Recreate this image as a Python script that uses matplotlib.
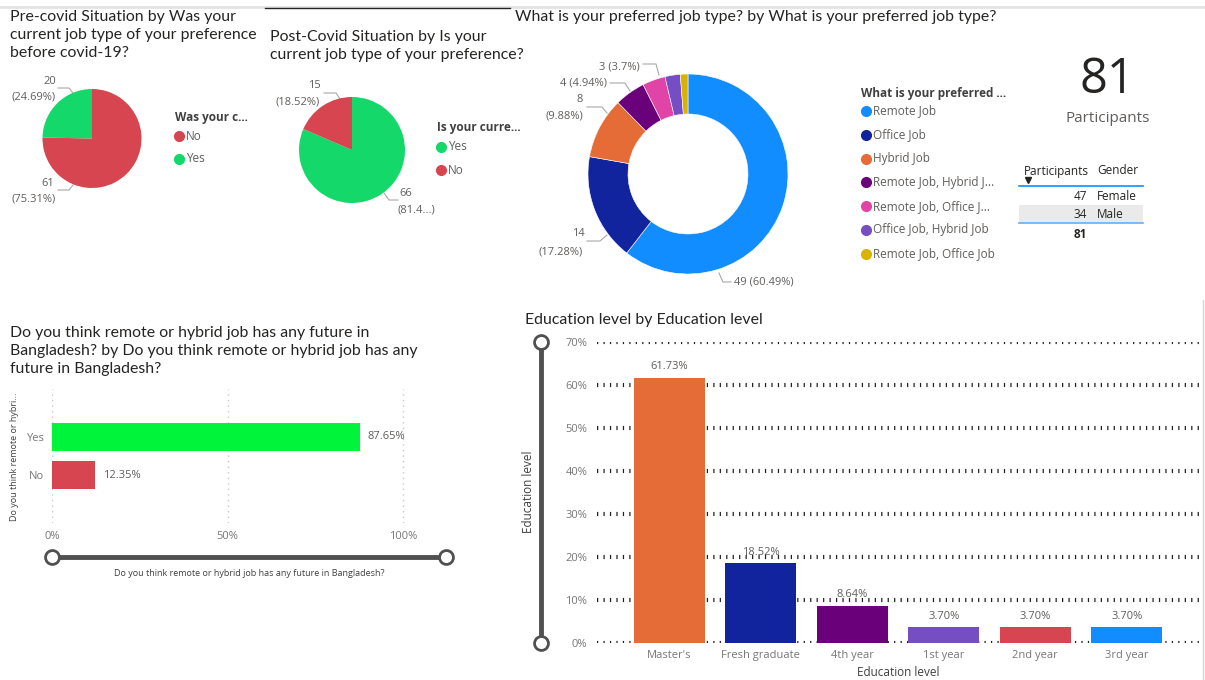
import matplotlib
matplotlib.use("Agg")
import matplotlib.pyplot as plt
from matplotlib.ticker import FuncFormatter

# ---------------- data ----------------
pre_labels = ["No", "Yes"]
pre_values = [61, 20]
post_labels = ["Yes", "No"]
post_values = [66, 15]
job_types = ["Remote Job", "Office Job", "Hybrid Job", "Remote Job, Hybrid J...",
             "Remote Job, Office J...", "Office Job, Hybrid Job", "Remote Job, Office Job"]
job_counts = [49, 14, 8, 4, 3, 2, 1]
gender_labels = ["Female", "Male"]
gender_counts = [47, 34]
future_labels = ["Yes", "No"]
future_pct = [87.65, 12.35]
edu_levels = ["Master's", "Fresh graduate", "4th year", "1st year", "2nd year", "3rd year"]
edu_pct = [61.73, 18.52, 8.64, 3.70, 3.70, 3.70]

# ---------------- styling ----------------
RED = "#D64550"
GREEN_PIE = "#14D86A"
GREEN_BAR = "#00F53A"
pre_colors = [RED, GREEN_PIE]
post_colors = [GREEN_PIE, RED]
job_colors = ["#118DFF", "#12239E", "#E66C37", "#6B007B", "#E044A7", "#744EC2", "#D9B300"]
future_colors = [GREEN_BAR, RED]
edu_colors = ["#E66C37", "#12239E", "#6B007B", "#744EC2", "#D64550", "#118DFF"]
TITLE_C = "#252423"
LABEL_C = "#605E5C"
LEAD_C = "#A8A8A8"
TFONT = "Lato"
BFONT = "Open Sans"
TSIZE = 11.4

W, H = 1205, 680
fig = plt.figure(figsize=(W / 100, H / 100), dpi=100)
fig.patch.set_facecolor("white")

bg = fig.add_axes([0, 0, 1, 1], zorder=-1)
bg.set_xlim(0, W)
bg.set_ylim(H, 0)
bg.axis("off")


def add_ax(x0, y0, x1, y1, **kw):
    return fig.add_axes([x0 / W, 1 - y1 / H, (x1 - x0) / W, (y1 - y0) / H], **kw)


def pct_str(p):
    return f"{p:.2f}".rstrip("0").rstrip(".")


def title(x, y_first, txt):
    lines = txt.split("\n")
    for i, ln in enumerate(lines):
        bg.text(x, y_first + 18.2 * i, ln, fontsize=TSIZE, family=TFONT, color=TITLE_C,
                va="center", ha="left")


# top border lines
bg.plot([0, W], [7, 7], color="#E3E3E3", lw=2)
bg.plot([265, 510], [8, 8], color="#252423", lw=1)
bg.plot([1203, 1203], [300, 680], color="#D6D6D6", lw=1)

# ---------------- Pie 1 ----------------
title(10, 17, "Pre-covid Situation by Was your\ncurrent job type of your preference\nbefore covid-19?")
ax1 = add_ax(92 - 49.5, 138.5 - 49.5, 92 + 49.5, 138.5 + 49.5)
ax1.pie(pre_values, colors=pre_colors, startangle=90, counterclock=False,
        wedgeprops=dict(linewidth=0))
ax1.set_xlim(-1, 1); ax1.set_ylim(-1, 1)
tot = sum(pre_values)
bg.text(50, 81, f"{pre_values[1]}", fontsize=8, family=BFONT, color=LABEL_C, ha="center", va="center")
bg.text(34, 97, f"({pct_str(pre_values[1] / tot * 100)}%)", fontsize=8, family=BFONT, color=LABEL_C, ha="center", va="center")
bg.plot([58, 69, 73], [88, 88, 93], color=LEAD_C, lw=0.8)
bg.text(48, 183, f"{pre_values[0]}", fontsize=8, family=BFONT, color=LABEL_C, ha="center", va="center")
bg.text(34, 199, f"({pct_str(pre_values[0] / tot * 100)}%)", fontsize=8, family=BFONT, color=LABEL_C, ha="center", va="center")
bg.plot([58, 69, 73], [190, 190, 185], color=LEAD_C, lw=0.8)
bg.text(175, 117, "Was your c...", fontsize=8.5, family=BFONT, weight="bold", color="#404040", va="center")
for i, (lab, c) in enumerate(zip(pre_labels, pre_colors)):
    y = 136 + 23 * i
    bg.plot(179, y, "o", ms=7, color=c)
    bg.text(186, y, lab, fontsize=8.5, family=BFONT, color=LABEL_C, va="center")

# ---------------- Pie 2 ----------------
title(270, 37, "Post-Covid Situation by Is your\ncurrent job type of your preference?")
ax2 = add_ax(352 - 53, 150 - 53, 352 + 53, 150 + 53)
ax2.pie(post_values, colors=post_colors, startangle=90, counterclock=False,
        wedgeprops=dict(linewidth=0))
ax2.set_xlim(-1, 1); ax2.set_ylim(-1, 1)
tot = sum(post_values)
bg.text(314, 86, f"{post_values[1]}", fontsize=8, family=BFONT, color=LABEL_C, ha="center", va="center")
bg.text(298, 102, f"({pct_str(post_values[1] / tot * 100)}%)", fontsize=8, family=BFONT, color=LABEL_C, ha="center", va="center")
bg.plot([324, 336, 340], [93, 93, 99], color=LEAD_C, lw=0.8)
bg.text(406, 193, f"{post_values[0]}", fontsize=8, family=BFONT, color=LABEL_C, ha="center", va="center")
bg.text(416, 210, "(81.4...)", fontsize=8, family=BFONT, color=LABEL_C, ha="center", va="center")
bg.plot([384, 389, 398], [193, 200, 200], color=LEAD_C, lw=0.8)
bg.text(437, 127, "Is your curre...", fontsize=8.5, family=BFONT, weight="bold", color="#404040", va="center")
for i, (lab, c) in enumerate(zip(post_labels, post_colors)):
    y = 147 + 23 * i
    bg.plot(441, y, "o", ms=7, color=c)
    bg.text(448, y, lab, fontsize=8.5, family=BFONT, color=LABEL_C, va="center")

# ---------------- Donut ----------------
title(515, 17, "What is your preferred job type? by What is your preferred job type?")
ax3 = add_ax(688 - 100, 174 - 100, 688 + 100, 174 + 100)
ax3.pie(job_counts, colors=job_colors, startangle=90, counterclock=False,
        wedgeprops=dict(width=0.4, linewidth=0.4, edgecolor="white"))
ax3.set_xlim(-1, 1); ax3.set_ylim(-1, 1)
tot = sum(job_counts)
pc = [pct_str(v / tot * 100) for v in job_counts]
bg.text(640, 67, f"{job_counts[4]} ({pc[4]}%)", fontsize=8, family=BFONT, color=LABEL_C, ha="right", va="center")
bg.plot([643, 656, 659], [64, 64, 75], color=LEAD_C, lw=0.8)
bg.text(607, 83, f"{job_counts[3]} ({pc[3]}%)", fontsize=8, family=BFONT, color=LABEL_C, ha="right", va="center")
bg.plot([610, 625, 630], [83, 83, 91], color=LEAD_C, lw=0.8)
bg.text(580, 99, f"{job_counts[2]}", fontsize=8, family=BFONT, color=LABEL_C, ha="center", va="center")
bg.text(564, 116, f"({pc[2]}%)", fontsize=8, family=BFONT, color=LABEL_C, ha="center", va="center")
bg.plot([587, 602, 607], [107, 107, 113], color=LEAD_C, lw=0.8)
bg.text(578, 234, f"{job_counts[1]}", fontsize=8, family=BFONT, color=LABEL_C, ha="center", va="center")
bg.text(561, 252, f"({pc[1]}%)", fontsize=8, family=BFONT, color=LABEL_C, ha="center", va="center")
bg.plot([587, 600, 607], [241, 241, 235], color=LEAD_C, lw=0.8)
bg.text(734, 282, f"{job_counts[0]} ({pc[0]}%)", fontsize=8, family=BFONT, color=LABEL_C, ha="left", va="center")
bg.plot([719, 723, 731], [273, 282, 282], color=LEAD_C, lw=0.8)

bg.text(861, 93, "What is your preferred ...", fontsize=8.5, family=BFONT, weight="bold", color="#404040", va="center")
for i, (lab, c) in enumerate(zip(job_types, job_colors)):
    y = 111 + 23.8 * i
    bg.plot(866, y, "o", ms=7, color=c)
    bg.text(873, y, lab, fontsize=8.5, family=BFONT, color=LABEL_C, va="center")

# ---------------- KPI card + table ----------------
bg.text(1107, 80, f"{sum(gender_counts)}", fontsize=35, family=BFONT, color=TITLE_C, ha="center", va="center")
bg.text(1108, 118, "Participants", fontsize=11, family=BFONT, color=LABEL_C, ha="center", va="center")

bg.text(1024, 171, "Participants", fontsize=8.5, family=BFONT, color=TITLE_C, ha="left", va="center")
bg.text(1097, 171, "Gender", fontsize=8.5, family=BFONT, color=TITLE_C, ha="left", va="center")
bg.plot(1028, 180, marker="v", ms=4.5, color=TITLE_C)
bg.plot([1019, 1143], [186, 186], color="#118DFF", lw=1.2)
bg.fill_between([1019, 1143], 205, 223, color="#EAEAEA", lw=0)
bg.plot([1019, 1143], [223, 223], color="#5FB1FF", lw=1.2)
for i, (g, n) in enumerate(zip(gender_labels, gender_counts)):
    y = 196 + 19 * i
    bg.text(1087, y, f"{n}", fontsize=8.5, family=BFONT, color=TITLE_C, ha="right", va="center")
    bg.text(1097, y, g, fontsize=8.5, family=BFONT, color=TITLE_C, ha="left", va="center")
bg.text(1087, 234, f"{sum(gender_counts)}", fontsize=8.5, family=BFONT, weight="bold", color=TITLE_C, ha="right", va="center")

# ---------------- Horizontal bar (future) ----------------
title(10, 333, "Do you think remote or hybrid job has any future in\nBangladesh? by Do you think remote or hybrid job has any\nfuture in Bangladesh?")
ax4 = add_ax(52, 389, 446, 523)
ax4.barh(range(len(future_labels)), future_pct, height=0.737, color=future_colors, zorder=2)
ax4.set_xlim(0, 112.25)
ax4.set_ylim(2.263, -1.263)
ax4.set_xticks([0, 50, 100])
ax4.xaxis.set_major_formatter(FuncFormatter(lambda v, p: f"{v:.0f}%"))
ax4.set_yticks(range(len(future_labels)))
ax4.set_yticklabels(future_labels)
ax4.grid(axis="x", linestyle=(0, (1, 3)), color="#C8C8C8", lw=1)
ax4.set_axisbelow(True)
for s in ax4.spines.values():
    s.set_visible(False)
ax4.tick_params(length=0, labelsize=8, labelcolor="#777777", pad=6)
for t in ax4.get_xticklabels() + ax4.get_yticklabels():
    t.set_family(BFONT)
for i, v in enumerate(future_pct):
    ax4.text(v + 2.2, i, f"{v:.2f}%", fontsize=8, family=BFONT, color=LABEL_C, va="center", ha="left")
bg.text(15, 457, "Do you think remote or hybri...", fontsize=6.5, family=BFONT, color="#404040",
        rotation=90, ha="center", va="center")
bg.plot([52, 446], [557, 557], color="#505050", lw=3.5, solid_capstyle="butt", zorder=1)
for x in (52, 446):
    bg.plot(x, 557, "o", ms=10, mfc="white", mec="#505050", mew=2, zorder=2)
bg.text(249, 574, "Do you think remote or hybrid job has any future in Bangladesh?", fontsize=6.5,
        family=BFONT, color="#404040", ha="center", va="center")

# ---------------- Vertical bar (education) ----------------
title(525, 320, "Education level by Education level")
ax5 = add_ax(597, 342, 1200, 643)
bars = ax5.bar(range(len(edu_levels)), edu_pct, width=0.777, color=edu_colors, zorder=2)
ax5.set_xlim(-0.79, 5.80)
ax5.set_ylim(0, 70)
ax5.set_yticks(range(0, 71, 10))
ax5.yaxis.set_major_formatter(FuncFormatter(lambda v, p: f"{v:.0f}%"))
ax5.set_xticks(range(len(edu_levels)))
ax5.set_xticklabels(edu_levels)
ax5.grid(axis="y", linestyle=(0, (0.3, 1.25)), color="#222222", lw=3.0)
ax5.set_axisbelow(True)
for s in ax5.spines.values():
    s.set_visible(False)
ax5.tick_params(length=0, labelsize=8, labelcolor="#777777")
ax5.tick_params(axis="y", pad=7)
ax5.tick_params(axis="x", pad=5)
for t in ax5.get_xticklabels() + ax5.get_yticklabels():
    t.set_family(BFONT)
ax5.bar_label(bars, labels=[f"{v:.2f}%" for v in edu_pct], padding=4, fontsize=8,
              family=BFONT, color=LABEL_C)
bg.text(528, 492, "Education level", fontsize=8.5, family=BFONT, color="#404040", rotation=90,
        ha="center", va="center")
bg.text(898, 672, "Education level", fontsize=8.5, family=BFONT, color="#404040", ha="center", va="center")
bg.plot([541, 541], [342, 643], color="#505050", lw=3.5, solid_capstyle="butt", zorder=1)
for y in (342, 643):
    bg.plot(541, y, "o", ms=10, mfc="white", mec="#505050", mew=2, zorder=2)

fig.savefig("out.png", dpi=100)
